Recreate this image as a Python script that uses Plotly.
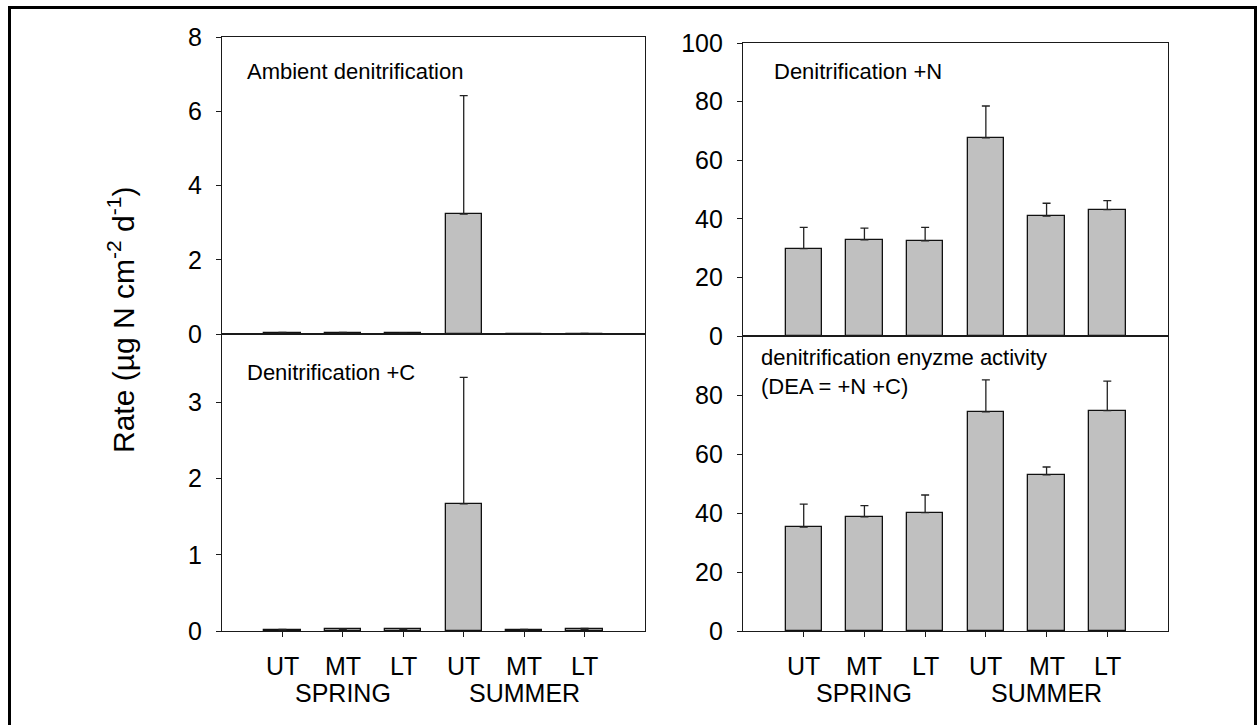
import plotly.graph_objects as go

categories = ["UT", "MT", "LT", "UT", "MT", "LT"]
seasons = ["SPRING", "SUMMER"]
season_pos = [1, 4]

ambient = [0.03, 0.03, 0.015, 3.23, 0.005, 0.01]
ambient_err = [0.01, 0.01, 0.005, 3.19, 0.002, 0.005]

plus_c = [0.015, 0.02, 0.02, 1.67, 0.015, 0.02]
plus_c_err = [0.005, 0.008, 0.008, 1.66, 0.005, 0.015]

plus_n = [29.8, 32.8, 32.5, 67.6, 40.9, 43.1]
plus_n_err = [7.3, 4.0, 4.6, 10.9, 4.4, 3.1]

dea = [35.2, 38.7, 40.1, 74.3, 52.9, 74.7]
dea_err = [7.8, 3.8, 6.0, 10.8, 2.7, 10.0]

panel_titles = ["Ambient denitrification", "Denitrification +C",
                "Denitrification +N", "denitrification enyzme activity<br>(DEA = +N +C)"]

W, H = 1257, 725
FONT = "Arial, Liberation Sans, sans-serif"
xpos = list(range(len(categories)))

def px(x):
    return x / W

def py(y):
    return (H - y) / H

fig = go.Figure()

series = [(ambient, ambient_err, "x", "y"),
          (plus_c, plus_c_err, "x2", "y2"),
          (plus_n, plus_n_err, "x3", "y3"),
          (dea, dea_err, "x4", "y4")]

for vals, errs, xa, ya in series:
    fig.add_trace(go.Bar(
        x=xpos, y=vals, width=0.6, xaxis=xa, yaxis=ya,
        marker=dict(color="#C0C0C0", line=dict(color="#111111", width=1.3)),
        error_y=dict(type="data", symmetric=False, array=errs,
                     arrayminus=[0] * len(errs), color="#222222",
                     thickness=1.3, width=4),
        showlegend=False, hoverinfo="skip"))

axis_line = dict(showline=True, mirror=True, linecolor="#1a1a1a", linewidth=1.3,
                 showgrid=False, zeroline=False, automargin=False)

left_dom = [px(222), px(645)]
right_dom = [px(743), px(1168)]

xcommon = dict(range=[-1, 6], tickvals=xpos, showticklabels=False, **axis_line)
ycommon = dict(ticks="outside", ticklen=5, tickwidth=1.3, tickcolor="#1a1a1a",
               ticklabelstandoff=9,
               tickfont=dict(family=FONT, size=25, color="#000"), **axis_line)

fig.update_layout(
    width=W, height=H,
    margin=dict(l=0, r=0, t=0, b=0, pad=0, autoexpand=False),
    paper_bgcolor="white", plot_bgcolor="white",
    bargap=0,
    xaxis=dict(domain=left_dom, anchor="y", ticks="", **xcommon),
    yaxis=dict(domain=[py(334), py(37)], anchor="x", range=[0, 8],
               tickvals=[0, 2, 4, 6, 8], **ycommon),
    xaxis2=dict(domain=left_dom, anchor="y2", ticks="outside", ticklen=5,
                tickwidth=1.3, tickcolor="#1a1a1a", **xcommon),
    yaxis2=dict(domain=[py(631), py(334)], anchor="x2", range=[0, 3.9],
                tickvals=[0, 1, 2, 3], **ycommon),
    xaxis3=dict(domain=right_dom, anchor="y3", ticks="", **xcommon),
    yaxis3=dict(domain=[py(336), py(43)], anchor="x3", range=[0, 100],
                tickvals=[0, 20, 40, 60, 80, 100], **ycommon),
    xaxis4=dict(domain=right_dom, anchor="y4", ticks="outside", ticklen=5,
                tickwidth=1.3, tickcolor="#1a1a1a", **xcommon),
    yaxis4=dict(domain=[py(631), py(336)], anchor="x4", range=[0, 100],
                tickvals=[0, 20, 40, 60, 80], **ycommon),
)

ann = []
title_pos = [(245, 71), (245, 372), (772, 71), (759, 372)]
for t, (x, y) in zip(panel_titles, title_pos):
    ann.append(dict(text=t, xref="paper", yref="paper", x=px(x), y=py(y),
                    xanchor="left", yanchor="middle", align="left", showarrow=False,
                    font=dict(family=FONT, size=22, color="#000")))

for xa in ["x2", "x4"]:
    for i, c in enumerate(categories):
        ann.append(dict(text=c, xref=xa, yref="paper", x=i, y=py(666),
                        xanchor="center", yanchor="middle", showarrow=False,
                        font=dict(family=FONT, size=25, color="#000")))
    for s, p in zip(seasons, season_pos):
        ann.append(dict(text=s, xref=xa, yref="paper", x=p, y=py(693),
                        xanchor="center", yanchor="middle", showarrow=False,
                        font=dict(family=FONT, size=25, color="#000")))

ann.append(dict(text="Rate (µg N cm<sup>-2</sup> d<sup>-1</sup>)", xref="paper", yref="paper",
                x=px(121), y=py(320), xanchor="center", yanchor="middle",
                textangle=-90, showarrow=False,
                font=dict(family=FONT, size=30, color="#000")))

fig.update_layout(annotations=ann)

fig.add_shape(type="rect", xref="paper", yref="paper",
              x0=px(9.5), x1=px(1255.5), y0=-0.05, y1=py(7.5),
              line=dict(color="#000", width=3), fillcolor="rgba(0,0,0,0)")

fig.write_html("out.html", config={"responsive": False, "displayModeBar": False},
               post_script="document.body.style.margin='0';document.body.style.overflow='hidden';")
